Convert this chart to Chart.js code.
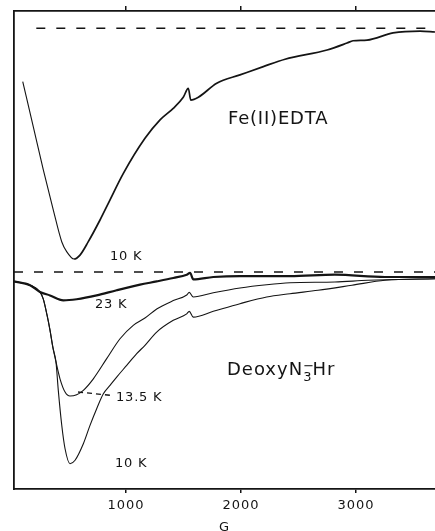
<!DOCTYPE html>
<html>
<head>
<meta charset="utf-8">
<title>Fe(II)EDTA / DeoxyN3-Hr MCD</title>
<script src="https://cdn.jsdelivr.net/npm/chart.js"></script>
<style>
    html, body { margin: 0; padding: 0; background: #fff; overflow: hidden; }
    canvas { display: block; }
</style>
</head>
<body>
<canvas id="mcdChart" width="435" height="531"></canvas>
<script>
// Field axis (gauss) and tick marks
const fieldMin = 26;
const fieldMax = 3687;
const fieldTicks = [1000, 2000, 3000];

// Fe(II)EDTA, 10 K (upper panel, arbitrary units, baseline = 0)
const feField = [102, 194, 281, 368, 441, 484, 548, 600, 672, 774, 846, 977, 1165, 1296, 1411, 1498, 1542, 1563, 1629, 1789, 1991, 2194, 2383, 2748, 2922, 2974, 3096, 3322, 3557, 3687];
const feSignal = [-23.1, -42.7, -61.4, -78.8, -92.5, -96.8, -100, -98.3, -92.5, -83.1, -75.9, -62.9, -47.7, -39.7, -34.7, -29.9, -26.0, -31.1, -29.9, -23.8, -20.2, -16.6, -13.4, -9.4, -6.4, -5.4, -5.1, -2.0, -1.2, -1.6];

// DeoxyN3-Hr at 23 K (lower panel)
const k23Field = [26, 165, 252, 339, 455, 571, 745, 919, 1122, 1267, 1411, 1528, 1557, 1585, 1759, 1991, 2426, 2817, 3252, 3687];
const k23Signal = [-4.9, -6.9, -10.4, -12.2, -14.8, -14.2, -12.2, -9.5, -6.6, -4.9, -3.1, -1.4, -0.4, -3.8, -2.6, -2.1, -2.1, -1.4, -2.6, -2.6];

// DeoxyN3-Hr at 13.5 K
const k135Field = [26, 165, 252, 281, 313, 339, 365, 391, 426, 470, 513, 571, 629, 716, 832, 948, 1063, 1165, 1267, 1411, 1528, 1550, 1585, 1759, 1991, 2223, 2426, 2817, 3104, 3687];
const k135Signal = [-4.9, -6.9, -10.4, -14.1, -22.4, -30.3, -39.6, -46.9, -55.7, -62.6, -64.7, -64.0, -61.7, -55.7, -45.2, -34.8, -27.8, -24.0, -19.3, -14.9, -12.0, -10.6, -13.0, -10.8, -8.3, -6.6, -5.6, -5.2, -4.3, -3.5];

// DeoxyN3-Hr at 10 K
const k10Field = [26, 165, 252, 281, 313, 339, 365, 391, 411, 441, 470, 513, 557, 629, 687, 745, 803, 861, 919, 1006, 1093, 1165, 1267, 1411, 1528, 1550, 1585, 1759, 1991, 2223, 2426, 2670, 2965, 3252, 3687];
const k10Signal = [-4.9, -6.9, -10.4, -14.1, -22.4, -30.3, -39.6, -46.9, -61.6, -79.8, -92.2, -100, -98.2, -89.6, -80.0, -71.3, -63.5, -59.1, -54.8, -48.7, -42.6, -38.2, -31.3, -25.2, -21.8, -20.5, -23.5, -20.5, -16.5, -13.0, -11.3, -9.5, -6.9, -4.3, -3.5];

// Zero-signal reference lines for each panel
const topBaseField = [220, 3687];
const bottomBaseField = [26, 3687];

const INK = '#141414';
const FONT = '"DejaVu Sans", "Liberation Sans", sans-serif';

document.addEventListener('DOMContentLoaded', function() {
    initializeMcdChart();
});

// Zip a field array and a signal array into {x, y} points
function toPoints(fields, signals) {
    return fields.map(function(g, i) {
        return { x: g, y: signals[i] };
    });
}

function baseline(fields) {
    return fields.map(function(g) {
        return { x: g, y: 0 };
    });
}

function traceDataset(fields, signals, axis, width) {
    return {
        data: toPoints(fields, signals),
        yAxisID: axis,
        borderColor: INK,
        borderWidth: width,
        pointRadius: 0,
        fill: false,
        cubicInterpolationMode: 'monotone'
    };
}

function baselineDataset(fields, axis) {
    return {
        data: baseline(fields),
        yAxisID: axis,
        borderColor: INK,
        borderWidth: 1.5,
        borderDash: [9, 11],
        pointRadius: 0,
        fill: false
    };
}

// Sample names, temperatures and the 13.5 K leader line
const panelLabels = {
    id: 'panelLabels',
    beforeDraw: function(chart) {
        chart.ctx.letterSpacing = '1px';
    },
    afterDatasetsDraw: function(chart) {
        const ctx = chart.ctx;
        const x = chart.scales.x;
        const yTop = chart.scales.yTop;
        const yBot = chart.scales.yBot;

        ctx.save();
        ctx.fillStyle = INK;
        ctx.strokeStyle = INK;
        ctx.textAlign = 'left';
        ctx.textBaseline = 'alphabetic';

        ctx.letterSpacing = '0.8px';
        ctx.font = '18px ' + FONT;
        ctx.fillText('Fe(II)EDTA', x.getPixelForValue(1887), yTop.getPixelForValue(-41.5));

        ctx.font = '13px ' + FONT;
        ctx.fillText('10 K', x.getPixelForValue(861), yTop.getPixelForValue(-100.6));
        ctx.fillText('23 K', x.getPixelForValue(730), yBot.getPixelForValue(-19.0));
        ctx.fillText('13.5 K', x.getPixelForValue(913), yBot.getPixelForValue(-67.1));
        ctx.fillText('10 K', x.getPixelForValue(904), yBot.getPixelForValue(-101.7));

        // leader from the 13.5 K minimum to its label
        ctx.lineWidth = 1.3;
        ctx.setLineDash([5, 4]);
        ctx.beginPath();
        ctx.moveTo(x.getPixelForValue(583), yBot.getPixelForValue(-62.6));
        ctx.lineTo(x.getPixelForValue(880), yBot.getPixelForValue(-64.4));
        ctx.stroke();
        ctx.setLineDash([]);

        // DeoxyN3⁻Hr with stacked sub/superscript
        let px = x.getPixelForValue(1878);
        const py = yBot.getPixelForValue(-53.7);
        ctx.letterSpacing = '1px';
        ctx.font = '18px ' + FONT;
        ctx.fillText('DeoxyN', px, py);
        px += ctx.measureText('DeoxyN').width;
        ctx.font = '13px ' + FONT;
        ctx.fillText('3', px, py + 6.5);
        ctx.fillText('\u2212', px, py - 5);
        px += ctx.measureText('3').width;
        ctx.font = '18px ' + FONT;
        ctx.fillText('Hr', px, py);
        ctx.restore();
    }
};

function initializeMcdChart() {
    const ctx = document.getElementById('mcdChart');
    if (!ctx) return;

    Chart.defaults.font.family = FONT;
    Chart.defaults.color = INK;

    const setFieldTicks = function(scale) {
        scale.ticks = fieldTicks.map(function(v) { return { value: v }; });
    };

    new Chart(ctx, {
        type: 'line',
        data: {
            datasets: [
                baselineDataset(topBaseField, 'yTop'),
                baselineDataset(bottomBaseField, 'yBot'),
                Object.assign(traceDataset(feField, feSignal, 'yTop', 1.6), {
                    segment: {
                        borderWidth: function(c) { return c.p0.parsed.x < 548 ? 1.1 : 1.7; }
                    }
                }),
                traceDataset(k23Field, k23Signal, 'yBot', 2.2),
                traceDataset(k135Field, k135Signal, 'yBot', 1.1),
                traceDataset(k10Field, k10Signal, 'yBot', 1.1)
            ]
        },
        options: {
            responsive: false,
            animation: false,
            layout: { padding: 0 },
            plugins: {
                legend: { display: false },
                tooltip: { enabled: false }
            },
            scales: {
                x: {
                    type: 'linear',
                    position: 'bottom',
                    min: fieldMin,
                    max: fieldMax,
                    afterBuildTicks: setFieldTicks,
                    afterFit: function(s) { s.height = 42; },
                    grid: {
                        drawOnChartArea: false,
                        tickLength: 4,
                        color: INK,
                        lineWidth: 1.5
                    },
                    border: { display: true, color: INK, width: 1.8 },
                    ticks: {
                        autoSkip: false,
                        maxRotation: 0,
                        padding: 5,
                        font: { size: 13 },
                        callback: function(v) { return String(v); }
                    },
                    title: {
                        display: true,
                        text: 'G',
                        font: { size: 13 },
                        padding: { top: 0, bottom: -4 }
                    }
                },
                xTop: {
                    type: 'linear',
                    position: 'top',
                    min: fieldMin,
                    max: fieldMax,
                    afterBuildTicks: setFieldTicks,
                    afterFit: function(s) { s.height = 11; },
                    grid: {
                        drawOnChartArea: false,
                        tickLength: 5,
                        color: INK,
                        lineWidth: 1.5
                    },
                    border: { display: true, color: INK, width: 1.8 },
                    ticks: { display: false }
                },
                yTop: {
                    type: 'linear',
                    position: 'left',
                    min: -199.7,
                    max: 7.5,
                    afterFit: function(s) { s.width = 14; },
                    grid: { drawOnChartArea: false, drawTicks: false },
                    border: { display: true, color: INK, width: 1.8 },
                    ticks: { display: false }
                },
                yBot: {
                    type: 'linear',
                    display: false,
                    min: -113.2,
                    max: 136.2
                }
            }
        },
        plugins: [panelLabels]
    });
}
</script>
</body>
</html>
